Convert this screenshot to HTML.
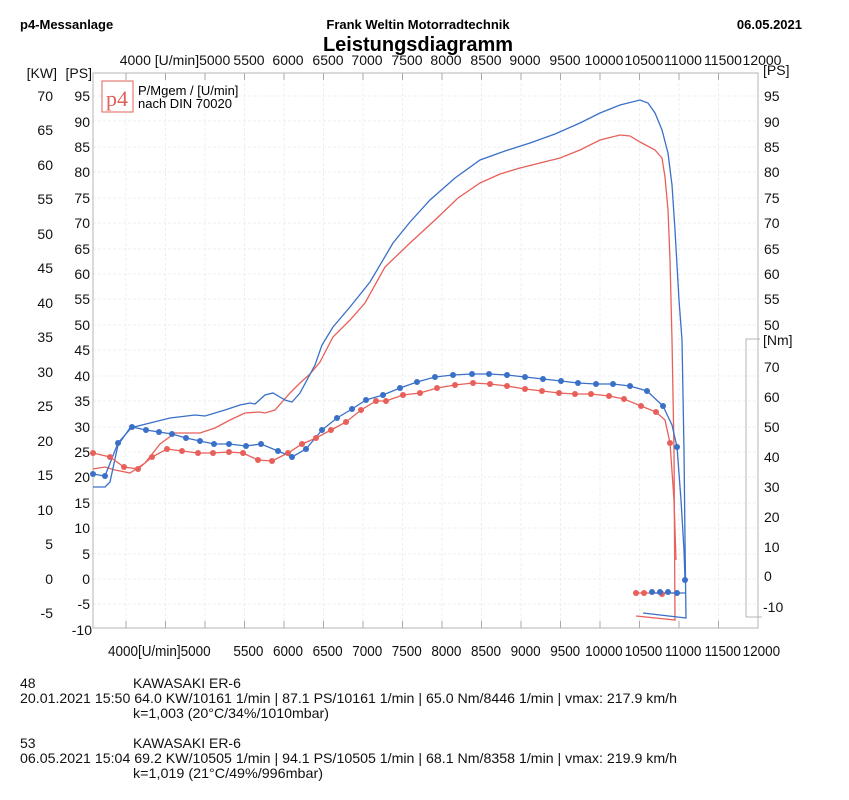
<!DOCTYPE html>
<html><head><meta charset="utf-8"><style>
body{margin:0;background:#fff;}
svg{display:block;font-family:"Liberation Sans",sans-serif;}
</style></head><body>
<svg width="849" height="800" viewBox="0 0 849 800" xmlns="http://www.w3.org/2000/svg">
<rect width="849" height="800" fill="#fff"/>
<text x="20" y="29" font-size="13" font-weight="bold">p4-Messanlage</text>
<text x="418" y="29" font-size="13" font-weight="bold" text-anchor="middle">Frank Weltin Motorradtechnik</text>
<text x="802" y="29" font-size="13" font-weight="bold" text-anchor="end">06.05.2021</text>
<text x="418" y="51" font-size="20" font-weight="bold" text-anchor="middle">Leistungsdiagramm</text>
<g font-size="14" text-anchor="middle" fill="#111">
<text x="175" y="65">4000 [U/min]5000</text>
<text x="249" y="65">5500</text><text x="288" y="65">6000</text><text x="328" y="65">6500</text><text x="367" y="65">7000</text><text x="407" y="65">7500</text><text x="446" y="65">8000</text><text x="486" y="65">8500</text><text x="525" y="65">9000</text><text x="565" y="65">9500</text><text x="604" y="65">10000</text><text x="644" y="65">10500</text><text x="683" y="65">11000</text><text x="723" y="65">11500</text><text x="762" y="65">12000</text>
</g>
<g font-size="15" fill="#111" text-anchor="middle" transform="scale(0.9,1)">
<text x="177" y="656">4000[U/min]5000</text>
<text x="276" y="656">5500</text><text x="320" y="656">6000</text><text x="364" y="656">6500</text><text x="408" y="656">7000</text><text x="452" y="656">7500</text><text x="496" y="656">8000</text><text x="540" y="656">8500</text><text x="584" y="656">9000</text><text x="628" y="656">9500</text><text x="671" y="656">10000</text><text x="715" y="656">10500</text><text x="759" y="656">11000</text><text x="803" y="656">11500</text><text x="846" y="656">12000</text>
</g>
<!-- grid -->
<g stroke="#eceff2" stroke-width="1" stroke-dasharray="3,2">
<path d="M126 73V628M165.5 73V628M205 73V628M244.5 73V628M284 73V628M323.5 73V628M363 73V628M402.5 73V628M442 73V628M481.5 73V628M521 73V628M560.5 73V628M600 73V628M639.5 73V628M679 73V628M718.5 73V628"/>
<path d="M93 96H758M93 121H758M93 147H758M93 172H758M93 198H758M93 223H758M93 249H758M93 274H758M93 299H758M93 325H758M93 350H758M93 376H758M93 401H758M93 427H758M93 452H758M93 477H758M93 503H758M93 528H758M93 554H758M93 579H758M93 604H758"/>
</g>
<!-- frame -->
<g stroke="#b5b5b5" fill="none">
<rect x="93" y="73" width="665" height="555"/>
<path d="M746 617V339H760M746 617H762"/>
</g>
<g stroke="#aaa">
<path d="M126 628v-7M165.5 628v-7M205 628v-7M244.5 628v-7M284 628v-7M323.5 628v-7M363 628v-7M402.5 628v-7M442 628v-7M481.5 628v-7M521 628v-7M560.5 628v-7M600 628v-7M639.5 628v-7M679 628v-7M718.5 628v-7"/>
<path d="M126 73v7M165.5 73v7M205 73v7M244.5 73v7M284 73v7M323.5 73v7M363 73v7M402.5 73v7M442 73v7M481.5 73v7M521 73v7M560.5 73v7M600 73v7M639.5 73v7M679 73v7M718.5 73v7"/>
</g>
<g font-size="14" fill="#111" text-anchor="end">
<text x="57" y="78">[KW]</text><text x="92" y="78">[PS]</text>
<text x="53" y="101">70</text><text x="53" y="135">65</text><text x="53" y="170">60</text><text x="53" y="204">55</text><text x="53" y="239">50</text><text x="53" y="273">45</text><text x="53" y="308">40</text><text x="53" y="342">35</text><text x="53" y="377">30</text><text x="53" y="411">25</text><text x="53" y="446">20</text><text x="53" y="480">15</text><text x="53" y="515">10</text><text x="53" y="549">5</text><text x="53" y="584">0</text><text x="53" y="618">-5</text>
<text x="90" y="101">95</text><text x="90" y="127">90</text><text x="90" y="152">85</text><text x="90" y="177">80</text><text x="90" y="203">75</text><text x="90" y="228">70</text><text x="90" y="254">65</text><text x="90" y="279">60</text><text x="90" y="304">55</text><text x="90" y="330">50</text><text x="90" y="355">45</text><text x="90" y="381">40</text><text x="90" y="406">35</text><text x="90" y="432">30</text><text x="90" y="457">25</text><text x="90" y="482">20</text><text x="90" y="508">15</text><text x="90" y="533">10</text><text x="90" y="559">5</text><text x="90" y="584">0</text><text x="90" y="609">-5</text><text x="92" y="635">-10</text>
</g>
<g font-size="14" fill="#111">
<text x="763" y="75">[PS]</text>
<text x="764" y="101">95</text><text x="764" y="127">90</text><text x="764" y="152">85</text><text x="764" y="177">80</text><text x="764" y="203">75</text><text x="764" y="228">70</text><text x="764" y="254">65</text><text x="764" y="279">60</text><text x="764" y="304">55</text><text x="764" y="330">50</text>
<text x="763" y="345">[Nm]</text>
<text x="764" y="372">70</text><text x="764" y="402">60</text><text x="764" y="432">50</text><text x="764" y="462">40</text><text x="764" y="492">30</text><text x="764" y="522">20</text><text x="764" y="552">10</text><text x="764" y="581">0</text><text x="763" y="612">-10</text>
</g>
<rect x="102" y="81" width="31" height="31" fill="#fff" stroke="#e0605a"/>
<text x="117" y="106" font-size="22" font-family="Liberation Serif,serif" fill="#e0605a" text-anchor="middle">p4</text>
<text x="138" y="95" font-size="13">P/Mgem / [U/min]</text>
<text x="138" y="108" font-size="13">nach DIN 70020</text>
<g fill="none" stroke-width="1.3">
<polyline stroke="#e8605a" points="93,469 105,467 115,470 130,473 145,463 160,444 175,433 200,433 215,428 230,420 245,413 260,412 265,413 275,410 290,393 300,383 310,374 320,362 333,337 350,320 365,303 385,267 410,243 435,220 458,198 480,183 500,174 520,168 540,163 560,158 580,150 600,140 620,135 630,136 640,142 655,150 662,158 665,177 668,210 670,260 672,340 674,450 675,620 636,616"/>
<polyline stroke="#3a70c8" points="93,487 105,487 110,482 118,445 130,428 150,423 170,418 195,415 205,416 225,410 240,405 250,403 255,404 265,395 273,393 285,400 292,402 300,393 315,365 322,345 333,327 350,307 370,282 393,243 410,222 430,200 455,178 480,160 505,151 530,143 555,134 580,123 600,113 620,105 640,100 648,103 655,113 662,130 668,153 672,185 675,230 679,300 682,340 684,450 685,540 686,618 643,613"/>
<polyline stroke="#e8605a" points="93,453 110,457 124,467 138,469 152,457 167,449 182,451 198,453 213,453 229,452 243,453 258,460 272,461 288,453 302,444 316,438 331,430 346,422 361,410 376,401 386,401 403,395 420,393 437,388 455,385 473,383 490,384 507,386 525,389 542,391 559,393 575,394 591,394 609,396 624,399 641,406 656,412 665,420 670,443 674,500 676,560"/>
<polyline stroke="#3a70c8" points="93,474 105,476 118,443 132,427 146,430 159,432 172,434 186,438 200,441 214,444 229,444 246,446 261,444 278,451 292,457 306,449 322,430 337,418 352,409 366,400 383,395 400,388 417,382 435,377 453,375 472,374 489,374 507,375 525,377 543,379 561,381 578,383 596,384 613,384 630,386 647,391 663,406 672,425 677,447 681,500 684,550 685,580"/>
<polyline stroke="#e8605a" points="636,593 676,593"/>
<polyline stroke="#3a70c8" points="650,593 686,593"/>
</g>
<g fill="#e8605a">
<circle cx="93" cy="453" r="3"/><circle cx="110" cy="457" r="3"/><circle cx="124" cy="467" r="3"/><circle cx="138" cy="469" r="3"/><circle cx="152" cy="457" r="3"/><circle cx="167" cy="449" r="3"/><circle cx="182" cy="451" r="3"/><circle cx="198" cy="453" r="3"/><circle cx="213" cy="453" r="3"/><circle cx="229" cy="452" r="3"/><circle cx="243" cy="453" r="3"/><circle cx="258" cy="460" r="3"/><circle cx="272" cy="461" r="3"/><circle cx="288" cy="453" r="3"/><circle cx="302" cy="444" r="3"/><circle cx="316" cy="438" r="3"/><circle cx="331" cy="430" r="3"/><circle cx="346" cy="422" r="3"/><circle cx="361" cy="410" r="3"/><circle cx="376" cy="401" r="3"/><circle cx="386" cy="401" r="3"/><circle cx="403" cy="395" r="3"/><circle cx="420" cy="393" r="3"/><circle cx="437" cy="388" r="3"/><circle cx="455" cy="385" r="3"/><circle cx="473" cy="383" r="3"/><circle cx="490" cy="384" r="3"/><circle cx="507" cy="386" r="3"/><circle cx="525" cy="389" r="3"/><circle cx="542" cy="391" r="3"/><circle cx="559" cy="393" r="3"/><circle cx="575" cy="394" r="3"/><circle cx="591" cy="394" r="3"/><circle cx="609" cy="396" r="3"/><circle cx="624" cy="399" r="3"/><circle cx="641" cy="406" r="3"/><circle cx="656" cy="412" r="3"/><circle cx="670" cy="443" r="3"/>
<circle cx="636" cy="593" r="3"/><circle cx="644" cy="593" r="3"/><circle cx="662" cy="594" r="3"/>
</g>
<g fill="#3a70c8">
<circle cx="93" cy="474" r="3"/><circle cx="105" cy="476" r="3"/><circle cx="118" cy="443" r="3"/><circle cx="132" cy="427" r="3"/><circle cx="146" cy="430" r="3"/><circle cx="159" cy="432" r="3"/><circle cx="172" cy="434" r="3"/><circle cx="186" cy="438" r="3"/><circle cx="200" cy="441" r="3"/><circle cx="214" cy="444" r="3"/><circle cx="229" cy="444" r="3"/><circle cx="246" cy="446" r="3"/><circle cx="261" cy="444" r="3"/><circle cx="278" cy="451" r="3"/><circle cx="292" cy="457" r="3"/><circle cx="306" cy="449" r="3"/><circle cx="322" cy="430" r="3"/><circle cx="337" cy="418" r="3"/><circle cx="352" cy="409" r="3"/><circle cx="366" cy="400" r="3"/><circle cx="383" cy="395" r="3"/><circle cx="400" cy="388" r="3"/><circle cx="417" cy="382" r="3"/><circle cx="435" cy="377" r="3"/><circle cx="453" cy="375" r="3"/><circle cx="472" cy="374" r="3"/><circle cx="489" cy="374" r="3"/><circle cx="507" cy="375" r="3"/><circle cx="525" cy="377" r="3"/><circle cx="543" cy="379" r="3"/><circle cx="561" cy="381" r="3"/><circle cx="578" cy="383" r="3"/><circle cx="596" cy="384" r="3"/><circle cx="613" cy="384" r="3"/><circle cx="630" cy="386" r="3"/><circle cx="647" cy="391" r="3"/><circle cx="663" cy="406" r="3"/><circle cx="677" cy="447" r="3"/><circle cx="685" cy="580" r="3"/>
<circle cx="652" cy="592" r="3"/><circle cx="660" cy="592" r="3"/><circle cx="668" cy="592" r="3"/><circle cx="677" cy="593" r="3"/>
</g>
<g font-size="14" fill="#111">
<text x="20" y="688">48</text>
<text x="133" y="688">KAWASAKI ER-6</text>
<text x="20" y="703" textLength="657" lengthAdjust="spacingAndGlyphs">20.01.2021  15:50 64.0 KW/10161 1/min  |  87.1 PS/10161 1/min  |  65.0 Nm/8446 1/min | vmax: 217.9 km/h</text>
<text x="133" y="718" textLength="196" lengthAdjust="spacingAndGlyphs">k=1,003 (20°C/34%/1010mbar)</text>
<text x="20" y="748">53</text>
<text x="133" y="748">KAWASAKI ER-6</text>
<text x="20" y="763" textLength="657" lengthAdjust="spacingAndGlyphs">06.05.2021  15:04 69.2 KW/10505 1/min  |  94.1 PS/10505 1/min  |  68.1 Nm/8358 1/min | vmax: 219.9 km/h</text>
<text x="133" y="778" textLength="190" lengthAdjust="spacingAndGlyphs">k=1,019 (21°C/49%/996mbar)</text>
</g>
</svg>
</body></html>
